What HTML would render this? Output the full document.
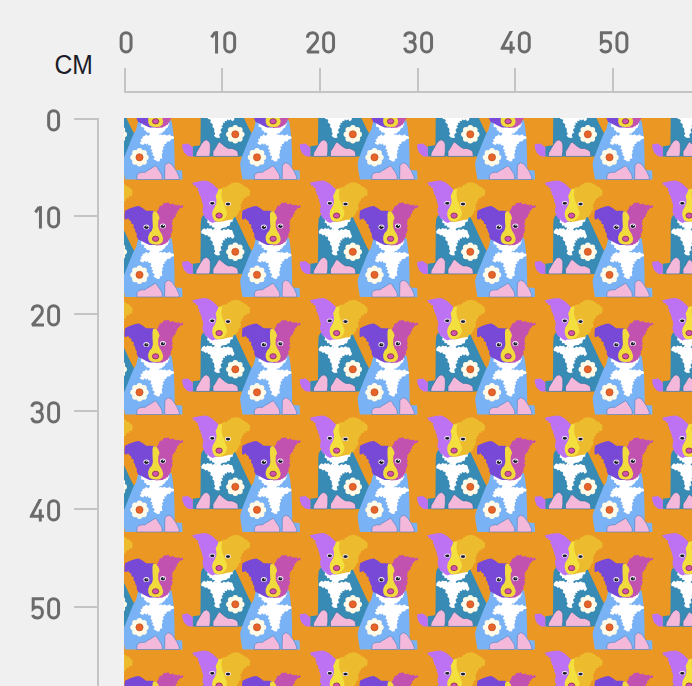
<!DOCTYPE html>
<html><head><meta charset="utf-8"><style>
html,body{margin:0;padding:0;background:#f0f0f0;width:692px;height:686px;overflow:hidden;position:relative;font-family:"Liberation Sans",sans-serif;}
svg{position:absolute;left:0;top:0}
</style></head><body>
<svg width="692" height="686" viewBox="0 0 692 686">
<defs><g id="dA"><polygon points="255.9,238.0 253.6,247.2 251.0,251.8 248.2,258.4 245.6,264.9 243.0,271.4 241.0,277.0 240.1,281.0 240.6,286.0 241.6,291.9 242.5,297.0 300.0,297.0 299.6,287.9 293.0,287.6 292.2,286.5 292.0,271.8 291.5,256.6 290.2,245.0 289.0,238.0" fill="#7AB2F6"/><polygon points="258.7,240.0 260.1,238.3 261.6,240.3 263.0,239.3 264.4,240.0 265.9,238.4 267.3,240.3 268.8,238.6 270.2,240.1 271.6,238.7 273.1,240.2 274.5,238.7 275.9,240.1 277.4,238.9 278.8,240.1 280.3,238.5 281.7,240.4 283.1,238.3 284.6,240.2 286.0,240.0 286.9,241.8 285.6,243.4 285.4,245.1 283.8,245.6 282.9,246.7 282.0,248.5 280.2,249.4 279.4,251.1 277.5,250.8 276.2,252.8 278.2,251.8 280.2,252.8 282.0,251.7 283.8,253.1 285.6,252.8 287.3,251.8 288.7,253.4 290.3,253.4 291.6,254.8 291.0,256.4 289.3,256.6 288.2,257.5 287.3,259.1 285.5,258.8 284.2,259.5 283.6,261.5 281.5,261.5 282.5,263.6 280.2,264.2 281.2,266.4 279.5,268.2 280.3,270.0 279.2,271.8 279.5,273.6 279.8,275.9 277.5,276.3 277.2,278.7 274.8,279.0 272.8,277.6 270.8,276.8 272.2,274.8 271.5,273.6 269.6,272.4 270.9,270.5 268.7,269.4 270.1,267.5 267.8,266.6 268.8,264.3 268.1,262.8 265.9,263.0 265.4,260.8 263.8,262.3 262.1,260.8 260.7,262.4 258.7,261.8 258.0,261.5 257.3,259.7 259.2,258.9 257.9,256.9 260.0,256.1 260.1,254.0 262.1,253.4 263.8,251.8 265.4,253.4 267.2,252.1 269.4,252.8 267.2,253.2 267.4,250.7 266.1,250.1 264.1,250.0 263.4,248.1 261.5,247.8 261.9,245.6 260.7,244.7 258.5,244.2 258.7,242.0" fill="#FFFFFF"/><polygon points="242.5,210.7 247.1,208.6 252.9,206.4 256.4,206.1 260.0,207.9 263.6,210.7 267.1,210.7 272.0,211.0 273.0,245.0 267.1,245.0 263.6,243.6 260.0,241.4 257.1,240.0 255.6,239.4 255.0,237.9 254.1,236.3 254.4,234.5 253.9,232.9 252.8,231.7 252.7,230.0 252.1,228.6 250.9,227.4 251.4,225.7 250.7,224.3 248.8,223.8 249.0,221.8 247.9,220.7 246.3,219.7 245.7,217.9 244.2,219.5 242.1,219.3 242.0,215.0" fill="#7848D6"/><polygon points="272.0,212.0 274.6,211.7 276.7,207.4 277.3,205.7 279.2,205.7 280.3,204.6 281.7,202.8 283.9,203.1 285.8,202.2 287.2,204.0 288.9,204.2 290.6,203.3 291.7,204.9 293.4,204.4 294.6,205.6 296.4,204.5 297.8,206.2 299.6,204.9 301.0,206.4 299.8,207.7 298.1,208.0 296.7,208.9 296.1,210.4 294.6,211.0 294.7,213.2 293.1,214.6 293.3,216.4 291.7,217.4 291.0,219.1 289.6,220.3 290.2,221.7 289.5,223.2 289.6,224.6 290.5,226.6 288.9,228.1 290.4,229.3 289.6,231.0 289.4,232.7 288.1,233.9 288.9,235.9 287.4,237.4 287.2,239.1 286.0,240.3 285.7,242.1 283.9,242.4 283.0,243.7 281.5,244.1 280.3,245.0 273.0,245.5" fill="#C252B0"/><polygon points="270.7,211.4 270.0,214.3 270.0,220.0 270.4,227.1 269.3,230.7 267.1,232.9 265.7,236.4 265.7,240.0 267.1,242.9 270.0,244.3 273.6,244.6 277.1,244.3 280.0,242.1 280.7,238.6 279.3,234.3 277.1,230.7 275.7,227.1 275.7,221.4 277.1,217.9 275.7,214.3 273.6,211.4" fill="#F0DA3C"/><ellipse cx="273.1" cy="238.8" rx="3.2" ry="2.6" fill="#CF54AE" stroke="#8E2450" stroke-width="0.8"/><ellipse cx="263.9" cy="227.1" rx="3" ry="2.5" fill="#f4eef8"/><ellipse cx="263.9" cy="227.2" rx="2.1" ry="1.8" fill="#1a1a2a"/><circle cx="264.4" cy="226.4" r="0.6" fill="#fff"/><ellipse cx="280.4" cy="226.1" rx="3" ry="2.5" fill="#f4eef8"/><ellipse cx="280.4" cy="226.2" rx="2.1" ry="1.8" fill="#1a1a2a"/><circle cx="280.9" cy="225.4" r="0.6" fill="#fff"/><circle cx="257.0" cy="274.8" r="7.60" fill="#FFFBE8"/><circle cx="263.30" cy="274.80" r="2.9" fill="#FFFBE8"/><circle cx="261.45" cy="279.25" r="2.9" fill="#FFFBE8"/><circle cx="257.00" cy="281.10" r="2.9" fill="#FFFBE8"/><circle cx="252.55" cy="279.25" r="2.9" fill="#FFFBE8"/><circle cx="250.70" cy="274.80" r="2.9" fill="#FFFBE8"/><circle cx="252.55" cy="270.35" r="2.9" fill="#FFFBE8"/><circle cx="257.00" cy="268.50" r="2.9" fill="#FFFBE8"/><circle cx="261.45" cy="270.35" r="2.9" fill="#FFFBE8"/><circle cx="257.0" cy="274.8" r="3.6" fill="#E6632A" stroke="#B8481E" stroke-width="0.6"/><polygon points="254.2,297.0 254.5,292.6 256.3,290.6 259.4,289.8 262.6,289.8 264.6,288.2 267.8,286.4 270.4,284.8 273.0,283.3 274.5,284.8 276.6,288.0 278.7,291.1 279.7,293.7 279.7,297.0" fill="#F3B8DA" stroke="#4A7EB8" stroke-width="0.6"/><polygon points="282.1,297.0 282.4,282.7 285.6,280.1 289.1,281.6 292.0,285.6 294.3,289.1 296.6,294.3 296.9,297.0" fill="#F3B8DA" stroke="#4A7EB8" stroke-width="0.6"/></g><g id="dB"><polygon points="320.7,214.7 318.7,218.7 318.2,225.0 318.2,240.0 318.0,255.0 317.9,262.7 310.3,263.7 310.3,273.9 362.0,273.9 365.0,267.0 367.5,260.0 369.5,255.0 369.5,251.4 366.8,246.7 364.0,241.0 361.0,234.5 358.0,228.1 355.0,221.7 352.6,216.5 351.6,214.7" fill="#388BB4"/><polygon points="324.1,216.0 325.5,215.1 326.9,216.2 328.3,215.0 329.8,216.2 331.2,214.6 332.6,216.0 334.0,215.4 335.4,216.3 336.8,215.1 338.3,216.1 339.7,214.2 341.1,216.2 342.5,214.4 343.9,216.2 345.3,214.6 346.8,216.1 348.2,214.6 349.6,216.3 351.0,216.0 350.9,218.7 350.2,219.4 350.4,221.4 348.2,221.9 347.6,223.4 347.2,225.7 344.9,226.1 343.8,227.4 342.2,227.4 339.5,228.1 338.0,229.5 339.5,230.8 341.2,229.0 343.5,230.1 345.6,228.8 347.6,230.1 349.4,230.0 350.2,231.5 350.9,234.1 351.9,235.7 351.6,237.5 349.6,238.8 348.2,236.8 346.5,238.0 344.9,236.8 344.2,238.8 342.2,238.2 342.4,240.4 340.2,240.2 340.8,242.4 338.8,243.5 340.3,245.3 338.3,246.6 338.2,248.2 339.2,250.2 337.1,251.3 336.8,252.9 337.7,255.0 335.5,255.6 333.5,255.0 331.5,253.2 332.8,250.9 331.6,249.3 331.9,247.4 331.4,245.6 329.9,244.4 330.4,242.3 329.4,240.9 327.7,240.0 328.3,238.1 327.4,236.8 325.5,236.6 324.7,234.8 322.8,235.6 321.4,234.1 319.0,233.5 318.7,231.5 320.0,229.4 321.7,228.3 323.4,229.4 324.9,228.1 326.8,228.8 328.9,228.2 330.1,230.1 331.8,228.8 333.5,230.1 334.1,229.4 331.9,229.6 332.1,227.4 329.9,227.5 329.4,225.4 327.1,225.8 326.8,223.4 324.5,222.6 325.3,220.1 324.1,218.7" fill="#FFFFFF"/><polygon points="309.2,183.1 313.1,182.1 318.1,181.0 323.1,180.6 326.7,181.7 330.3,183.9 333.9,187.4 336.0,189.6 337.0,190.0 336.0,222.0 332.1,222.1 330.3,223.1 327.4,221.7 324.6,218.9 322.7,218.6 322.4,216.7 320.8,215.7 321.4,213.9 320.0,212.4 320.3,210.3 320.0,208.4 321.0,206.7 320.2,205.0 320.3,203.1 318.9,201.6 319.6,199.6 318.1,198.6 318.3,196.6 317.4,195.3 316.3,193.6 316.7,191.7 315.2,190.8 315.8,189.1 315.3,187.8 313.4,187.5 313.1,185.6 311.2,185.7 310.6,183.8" fill="#BC72F2"/><polygon points="336.0,189.6 339.7,188.1 341.2,186.9 343.0,187.2 344.7,186.7 345.3,184.9 347.1,184.8 348.3,183.9 349.3,182.6 350.8,183.2 351.9,182.3 353.3,182.4 354.8,181.9 355.8,183.2 357.3,182.7 358.3,183.9 360.0,184.4 361.2,185.8 362.6,186.7 364.5,187.0 365.3,188.8 366.9,189.6 367.7,191.2 367.3,192.9 367.6,194.6 366.2,196.2 364.0,196.0 364.0,197.9 362.0,197.8 361.1,198.9 360.7,200.8 359.0,201.7 359.5,203.7 357.6,204.6 358.4,206.3 358.3,208.1 358.2,210.3 356.1,211.0 356.4,212.6 355.4,213.9 354.0,216.0 352.8,217.2 351.1,217.4 350.2,219.4 346.0,220.0 340.0,221.5 336.0,222.0" fill="#ECBC2E"/><polygon points="336.0,189.6 334.6,193.1 333.1,196.0 333.9,199.6 333.9,203.1 332.4,206.7 330.3,210.3 329.6,213.9 330.3,217.4 331.7,220.3 334.0,221.8 338.1,221.0 341.7,219.3 343.9,216.0 344.6,212.4 343.1,208.9 341.7,204.6 339.6,199.6 338.9,194.6 339.6,188.9" fill="#F3DF3E"/><ellipse cx="336.6" cy="215.6" rx="3.2" ry="2.6" fill="#CF54AE" stroke="#8E2450" stroke-width="0.8"/><ellipse cx="329.8" cy="203.1" rx="2.9" ry="2.1" fill="#f4eef8"/><ellipse cx="329.8" cy="203.29999999999998" rx="2.2" ry="1.4" fill="#1a1a2a"/><ellipse cx="345.5" cy="203.9" rx="2.9" ry="2.1" fill="#f4eef8"/><ellipse cx="345.5" cy="204.1" rx="2.2" ry="1.4" fill="#1a1a2a"/><circle cx="352.8" cy="251.8" r="7.60" fill="#FFFBE8"/><circle cx="359.10" cy="251.80" r="2.9" fill="#FFFBE8"/><circle cx="357.25" cy="256.25" r="2.9" fill="#FFFBE8"/><circle cx="352.80" cy="258.10" r="2.9" fill="#FFFBE8"/><circle cx="348.35" cy="256.25" r="2.9" fill="#FFFBE8"/><circle cx="346.50" cy="251.80" r="2.9" fill="#FFFBE8"/><circle cx="348.35" cy="247.35" r="2.9" fill="#FFFBE8"/><circle cx="352.80" cy="245.50" r="2.9" fill="#FFFBE8"/><circle cx="357.25" cy="247.35" r="2.9" fill="#FFFBE8"/><circle cx="352.8" cy="251.8" r="3.6" fill="#E6632A" stroke="#B8481E" stroke-width="0.6"/><polygon points="299.8,261.8 305.5,261.1 308.7,263.4 310.3,265.3 310.3,274.2 305.5,273.8 301.7,270.3 299.8,265.3" fill="#BC72F2"/><polygon points="313.2,273.9 313.8,270.3 316.3,265.9 318.9,261.4 321.4,258.3 324.0,257.3 326.5,258.9 327.8,261.4 327.8,269.1 327.2,273.9" fill="#F3B8DA" stroke="#2C6C94" stroke-width="0.6"/><polygon points="330.5,273.9 330.5,269.1 333.0,265.3 335.5,260.8 337.1,259.5 339.4,261.4 342.5,264.0 345.7,265.9 349.5,265.9 352.7,267.2 355.2,269.1 355.9,273.9" fill="#F3B8DA" stroke="#2C6C94" stroke-width="0.6"/></g><clipPath id="gclip" clipPathUnits="userSpaceOnUse"><rect x="0" y="0" width="16" height="22.4"/></clipPath><clipPath id="cp"><rect x="124" y="118" width="568" height="568"/></clipPath></defs>
<rect x="124" y="91" width="568" height="2" fill="#c4c4c4"/>
<rect x="97" y="118" width="2" height="568" fill="#c4c4c4"/>
<rect x="124" y="68" width="2" height="24" fill="#c4c4c4"/><rect x="221" y="68" width="2" height="24" fill="#c4c4c4"/><rect x="319" y="68" width="2" height="24" fill="#c4c4c4"/><rect x="417" y="68" width="2" height="24" fill="#c4c4c4"/><rect x="514" y="68" width="2" height="24" fill="#c4c4c4"/><rect x="612" y="68" width="2" height="24" fill="#c4c4c4"/><rect x="74" y="118" width="24" height="2" fill="#c4c4c4"/><rect x="74" y="215" width="24" height="2" fill="#c4c4c4"/><rect x="74" y="313" width="24" height="2" fill="#c4c4c4"/><rect x="74" y="410" width="24" height="2" fill="#c4c4c4"/><rect x="74" y="508" width="24" height="2" fill="#c4c4c4"/><rect x="74" y="606" width="24" height="2" fill="#c4c4c4"/><g fill="none" stroke="#6b6b6b" stroke-width="3.0"><g transform="translate(119.60,31.10)"><path d="M1.55,6.50 A4.95,4.95 0 0 1 11.45,6.50 V15.90 A4.95,4.95 0 0 1 1.55,15.90 Z"/></g><g transform="translate(210.60,31.10)"><path d="M5.95,0 V22.4" /><path d="M4.60,1.0 L0.9,6.2" /></g><g transform="translate(223.20,31.10)"><path d="M1.55,6.50 A4.95,4.95 0 0 1 11.45,6.50 V15.90 A4.95,4.95 0 0 1 1.55,15.90 Z"/></g><g transform="translate(305.90,31.10)"><path d="M1.55,6.6 C1.55,3.4 3.9,1.55 6.65,1.55 C9.5,1.55 11.65,3.6 11.65,6.6 C11.65,8.6 10.9,9.9 9.6,11.5 L1.55,20.85 H13.30" stroke-linejoin="bevel"/></g><g transform="translate(322.10,31.10)"><path d="M1.55,6.50 A4.95,4.95 0 0 1 11.45,6.50 V15.90 A4.95,4.95 0 0 1 1.55,15.90 Z"/></g><g transform="translate(403.20,31.10)"><path d="M1.55,5.6 C1.9,3.1 4.0,1.55 6.7,1.55 C9.6,1.55 11.7,3.5 11.7,6.3 C11.7,8.9 9.8,10.6 7.3,10.6 H5.6 M7.3,10.6 C10.3,10.6 12.15,12.7 12.15,15.6 C12.15,18.8 9.9,20.85 6.8,20.85 C4.0,20.85 1.9,19.1 1.55,16.6" /></g><g transform="translate(420.10,31.10)"><path d="M1.55,6.50 A4.95,4.95 0 0 1 11.45,6.50 V15.90 A4.95,4.95 0 0 1 1.55,15.90 Z"/></g><g transform="translate(500.50,31.10)"><g clip-path="url(#gclip)"><path d="M11.9,-2.2 L1.55,17.2 H14.30" stroke-linejoin="miter" stroke-miterlimit="10"/></g><path d="M10.6,10.2 V22.4" /></g><g transform="translate(517.80,31.10)"><path d="M1.55,6.50 A4.95,4.95 0 0 1 11.45,6.50 V15.90 A4.95,4.95 0 0 1 1.55,15.90 Z"/></g><g transform="translate(599.20,31.10)"><path d="M13.00,1.55 H2.2 V11.4 C3.3,10.3 4.8,9.9 6.5,9.9 C9.5,9.9 11.45,12.2 11.45,15.4 C11.45,18.6 9.4,20.85 6.5,20.85 C4.3,20.85 2.3,19.9 1.55,17.8" /></g><g transform="translate(615.40,31.10)"><path d="M1.55,6.50 A4.95,4.95 0 0 1 11.45,6.50 V15.90 A4.95,4.95 0 0 1 1.55,15.90 Z"/></g><g transform="translate(47.10,109.10)"><path d="M1.55,6.50 A4.95,4.95 0 0 1 11.45,6.50 V15.90 A4.95,4.95 0 0 1 1.55,15.90 Z"/></g><g transform="translate(34.50,206.10)"><path d="M5.95,0 V22.4" /><path d="M4.60,1.0 L0.9,6.2" /></g><g transform="translate(47.10,206.10)"><path d="M1.55,6.50 A4.95,4.95 0 0 1 11.45,6.50 V15.90 A4.95,4.95 0 0 1 1.55,15.90 Z"/></g><g transform="translate(30.70,304.10)"><path d="M1.55,6.6 C1.55,3.4 3.9,1.55 6.65,1.55 C9.5,1.55 11.65,3.6 11.65,6.6 C11.65,8.6 10.9,9.9 9.6,11.5 L1.55,20.85 H13.30" stroke-linejoin="bevel"/></g><g transform="translate(47.10,304.10)"><path d="M1.55,6.50 A4.95,4.95 0 0 1 11.45,6.50 V15.90 A4.95,4.95 0 0 1 1.55,15.90 Z"/></g><g transform="translate(30.30,401.10)"><path d="M1.55,5.6 C1.9,3.1 4.0,1.55 6.7,1.55 C9.6,1.55 11.7,3.5 11.7,6.3 C11.7,8.9 9.8,10.6 7.3,10.6 H5.6 M7.3,10.6 C10.3,10.6 12.15,12.7 12.15,15.6 C12.15,18.8 9.9,20.85 6.8,20.85 C4.0,20.85 1.9,19.1 1.55,16.6" /></g><g transform="translate(47.10,401.10)"><path d="M1.55,6.50 A4.95,4.95 0 0 1 11.45,6.50 V15.90 A4.95,4.95 0 0 1 1.55,15.90 Z"/></g><g transform="translate(29.70,499.10)"><g clip-path="url(#gclip)"><path d="M11.9,-2.2 L1.55,17.2 H14.30" stroke-linejoin="miter" stroke-miterlimit="10"/></g><path d="M10.6,10.2 V22.4" /></g><g transform="translate(47.10,499.10)"><path d="M1.55,6.50 A4.95,4.95 0 0 1 11.45,6.50 V15.90 A4.95,4.95 0 0 1 1.55,15.90 Z"/></g><g transform="translate(31.00,597.10)"><path d="M13.00,1.55 H2.2 V11.4 C3.3,10.3 4.8,9.9 6.5,9.9 C9.5,9.9 11.45,12.2 11.45,15.4 C11.45,18.6 9.4,20.85 6.5,20.85 C4.3,20.85 2.3,19.9 1.55,17.8" /></g><g transform="translate(47.10,597.10)"><path d="M1.55,6.50 A4.95,4.95 0 0 1 11.45,6.50 V15.90 A4.95,4.95 0 0 1 1.55,15.90 Z"/></g></g>
<text x="54.4" y="73.9" font-family="Liberation Sans" font-size="28.2" fill="#1c1c28" textLength="38.4" lengthAdjust="spacingAndGlyphs">CM</text>
<g clip-path="url(#cp)"><rect x="124" y="118" width="568" height="568" fill="#EB9723"/><use href="#dB" x="-235.0" y="-235.0"/><use href="#dB" x="-117.5" y="-235.0"/><use href="#dB" x="0.0" y="-235.0"/><use href="#dB" x="117.5" y="-235.0"/><use href="#dB" x="235.0" y="-235.0"/><use href="#dB" x="352.5" y="-235.0"/><use href="#dB" x="470.0" y="-235.0"/><use href="#dB" x="-235.0" y="-117.5"/><use href="#dB" x="-117.5" y="-117.5"/><use href="#dB" x="0.0" y="-117.5"/><use href="#dB" x="117.5" y="-117.5"/><use href="#dB" x="235.0" y="-117.5"/><use href="#dB" x="352.5" y="-117.5"/><use href="#dB" x="470.0" y="-117.5"/><use href="#dB" x="-235.0" y="0.0"/><use href="#dB" x="-117.5" y="0.0"/><use href="#dB" x="0.0" y="0.0"/><use href="#dB" x="117.5" y="0.0"/><use href="#dB" x="235.0" y="0.0"/><use href="#dB" x="352.5" y="0.0"/><use href="#dB" x="470.0" y="0.0"/><use href="#dB" x="-235.0" y="117.5"/><use href="#dB" x="-117.5" y="117.5"/><use href="#dB" x="0.0" y="117.5"/><use href="#dB" x="117.5" y="117.5"/><use href="#dB" x="235.0" y="117.5"/><use href="#dB" x="352.5" y="117.5"/><use href="#dB" x="470.0" y="117.5"/><use href="#dB" x="-235.0" y="235.0"/><use href="#dB" x="-117.5" y="235.0"/><use href="#dB" x="0.0" y="235.0"/><use href="#dB" x="117.5" y="235.0"/><use href="#dB" x="235.0" y="235.0"/><use href="#dB" x="352.5" y="235.0"/><use href="#dB" x="470.0" y="235.0"/><use href="#dB" x="-235.0" y="352.5"/><use href="#dB" x="-117.5" y="352.5"/><use href="#dB" x="0.0" y="352.5"/><use href="#dB" x="117.5" y="352.5"/><use href="#dB" x="235.0" y="352.5"/><use href="#dB" x="352.5" y="352.5"/><use href="#dB" x="470.0" y="352.5"/><use href="#dB" x="-235.0" y="470.0"/><use href="#dB" x="-117.5" y="470.0"/><use href="#dB" x="0.0" y="470.0"/><use href="#dB" x="117.5" y="470.0"/><use href="#dB" x="235.0" y="470.0"/><use href="#dB" x="352.5" y="470.0"/><use href="#dB" x="470.0" y="470.0"/><use href="#dA" x="-235.0" y="-235.0"/><use href="#dA" x="-117.5" y="-235.0"/><use href="#dA" x="0.0" y="-235.0"/><use href="#dA" x="117.5" y="-235.0"/><use href="#dA" x="235.0" y="-235.0"/><use href="#dA" x="352.5" y="-235.0"/><use href="#dA" x="470.0" y="-235.0"/><use href="#dA" x="-235.0" y="-117.5"/><use href="#dA" x="-117.5" y="-117.5"/><use href="#dA" x="0.0" y="-117.5"/><use href="#dA" x="117.5" y="-117.5"/><use href="#dA" x="235.0" y="-117.5"/><use href="#dA" x="352.5" y="-117.5"/><use href="#dA" x="470.0" y="-117.5"/><use href="#dA" x="-235.0" y="0.0"/><use href="#dA" x="-117.5" y="0.0"/><use href="#dA" x="0.0" y="0.0"/><use href="#dA" x="117.5" y="0.0"/><use href="#dA" x="235.0" y="0.0"/><use href="#dA" x="352.5" y="0.0"/><use href="#dA" x="470.0" y="0.0"/><use href="#dA" x="-235.0" y="117.5"/><use href="#dA" x="-117.5" y="117.5"/><use href="#dA" x="0.0" y="117.5"/><use href="#dA" x="117.5" y="117.5"/><use href="#dA" x="235.0" y="117.5"/><use href="#dA" x="352.5" y="117.5"/><use href="#dA" x="470.0" y="117.5"/><use href="#dA" x="-235.0" y="235.0"/><use href="#dA" x="-117.5" y="235.0"/><use href="#dA" x="0.0" y="235.0"/><use href="#dA" x="117.5" y="235.0"/><use href="#dA" x="235.0" y="235.0"/><use href="#dA" x="352.5" y="235.0"/><use href="#dA" x="470.0" y="235.0"/><use href="#dA" x="-235.0" y="352.5"/><use href="#dA" x="-117.5" y="352.5"/><use href="#dA" x="0.0" y="352.5"/><use href="#dA" x="117.5" y="352.5"/><use href="#dA" x="235.0" y="352.5"/><use href="#dA" x="352.5" y="352.5"/><use href="#dA" x="470.0" y="352.5"/><use href="#dA" x="-235.0" y="470.0"/><use href="#dA" x="-117.5" y="470.0"/><use href="#dA" x="0.0" y="470.0"/><use href="#dA" x="117.5" y="470.0"/><use href="#dA" x="235.0" y="470.0"/><use href="#dA" x="352.5" y="470.0"/><use href="#dA" x="470.0" y="470.0"/></g>
</svg>


</body></html>
